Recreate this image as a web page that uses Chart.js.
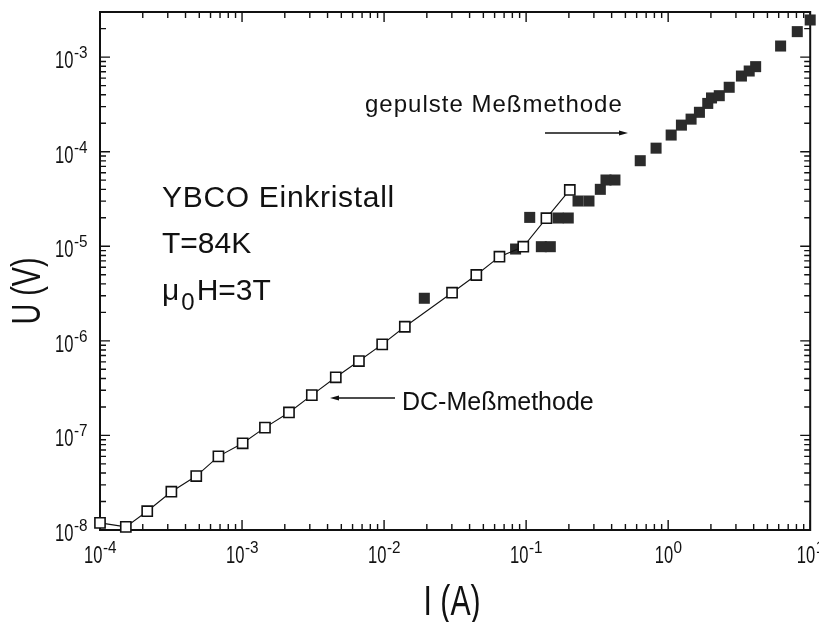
<!DOCTYPE html>
<html>
<head>
<meta charset="utf-8">
<title>U(I) YBCO Einkristall</title>
<script src="https://cdn.jsdelivr.net/npm/chart.js@4.4.1/dist/chart.umd.min.js"></script>
<style>
  html, body { margin: 0; padding: 0; background: #fff; }
  #wrap { width: 819px; height: 622px; }
</style>
</head>
<body>
<div id="wrap"><canvas id="ivChart" width="819" height="622"></canvas></div>
<script>
// DC measurement (open squares, joined by a line)
const dcCurrent = [1.0e-4, 1.52e-4, 2.15e-4, 3.18e-4, 4.76e-4, 6.82e-4, 1.01e-3, 1.45e-3, 2.14e-3, 3.10e-3,
                   4.57e-3, 6.65e-3, 9.70e-3, 1.40e-2, 3.01e-2, 4.46e-2, 6.49e-2, 9.55e-2, 0.139, 0.203];
const dcVoltage = [1.19e-8, 1.08e-8, 1.58e-8, 2.54e-8, 3.72e-8, 6.01e-8, 8.26e-8, 1.21e-7, 1.75e-7, 2.67e-7,
                   4.12e-7, 6.12e-7, 9.18e-7, 1.41e-6, 3.23e-6, 4.97e-6, 7.76e-6, 9.89e-6, 1.98e-5, 3.94e-5];

// pulsed measurement (filled squares)
const pulsCurrent = [1.92e-2, 8.43e-2, 0.106, 0.128, 0.148, 0.168, 0.198, 0.232, 0.277, 0.333,
                     0.365, 0.422, 0.636, 0.822, 1.05, 1.24, 1.45, 1.66, 1.90, 2.02,
                     2.29, 2.69, 3.28, 3.72, 4.13, 6.19, 8.11, 10.0];
const pulsVoltage = [2.82e-6, 9.35e-6, 2.02e-5, 9.9e-6, 9.9e-6, 1.99e-5, 1.99e-5, 3.01e-5, 3.01e-5, 4.0e-5,
                     5.02e-5, 5.02e-5, 8.03e-5, 1.09e-4, 1.50e-4, 1.91e-4, 2.21e-4, 2.61e-4, 3.24e-4, 3.70e-4,
                     3.91e-4, 4.80e-4, 6.31e-4, 7.13e-4, 7.93e-4, 1.31e-3, 1.86e-3, 2.47e-3];

// axis ranges and decade tick exponents
const xRange = [1e-4, 10];
const yRange = [1e-8, 3e-3];
const xExponents = [-4, -3, -2, -1, 0, 1];
const yExponents = [-8, -7, -6, -5, -4, -3];

const FONT = '"Liberation Sans", Arial, Helvetica, sans-serif';
const INK = '#111';

function toPoints(xs, ys) {
    return xs.map(function(x, i) { return { x: x, y: ys[i] }; });
}

// text helper: optional horizontal squeeze and letter spacing
function drawText(ctx, str, x, y, size, opts) {
    opts = opts || {};
    const sx = opts.scaleX || 1;
    ctx.save();
    ctx.font = size + 'px ' + FONT;
    ctx.fillStyle = INK;
    ctx.letterSpacing = (opts.spacing || 0) + 'px';
    ctx.textBaseline = 'alphabetic';
    const w = ctx.measureText(str).width * sx;
    let left = x;
    if (opts.align === 'center') left = x - w / 2;
    if (opts.align === 'right') left = x - w;
    ctx.translate(left, y);
    ctx.scale(sx, 1);
    ctx.textAlign = 'left';
    ctx.fillText(str, 0, 0);
    ctx.restore();
    return w;
}

function textWidth(ctx, str, size, sx) {
    ctx.save();
    ctx.font = size + 'px ' + FONT;
    const w = ctx.measureText(str).width * sx;
    ctx.restore();
    return w;
}

// "10" with a raised exponent
function drawPower(ctx, exp, x, baseline, align) {
    const baseSize = 23, baseSx = 0.72, supSize = 17, supSx = 0.9;
    const sup = String(exp);
    const wBase = textWidth(ctx, '10', baseSize, baseSx);
    const wSup = textWidth(ctx, sup, supSize, supSx);
    let left = x;
    if (align === 'center') left = x - (wBase + wSup) / 2;
    if (align === 'right') left = x - (wBase + wSup);
    drawText(ctx, '10', left, baseline, baseSize, { scaleX: baseSx });
    drawText(ctx, sup, left + wBase + 0.5, baseline - 10, supSize, { scaleX: supSx });
}

function arrow(ctx, x1, x2, y) {
    const dir = x2 > x1 ? 1 : -1;
    ctx.save();
    ctx.strokeStyle = INK;
    ctx.fillStyle = INK;
    ctx.lineWidth = 1.3;
    ctx.beginPath();
    ctx.moveTo(x1, y);
    ctx.lineTo(x2 - dir * 6, y);
    ctx.stroke();
    ctx.beginPath();
    ctx.moveTo(x2, y);
    ctx.lineTo(x2 - dir * 9, y - 2.6);
    ctx.lineTo(x2 - dir * 9, y + 2.6);
    ctx.closePath();
    ctx.fill();
    ctx.restore();
}

// frame, inward ticks on all four sides, tick labels
const logAxesPlugin = {
    id: 'logAxes',
    beforeDatasetsDraw: function(chart) {
        const ctx = chart.ctx;
        const a = chart.chartArea;
        const xs = chart.scales.x, ys = chart.scales.y;
        ctx.save();
        ctx.strokeStyle = INK;
        ctx.lineWidth = 2;
        ctx.strokeRect(a.left, a.top, a.right - a.left, a.bottom - a.top);

        ctx.lineWidth = 1.4;
        ctx.beginPath();
        for (let e = -5; e <= 1; e++) {
            for (let m = 1; m <= 9; m++) {
                const v = m * Math.pow(10, e);
                if (v < xRange[0] * 0.999 || v > xRange[1] * 1.001) continue;
                const px = xs.getPixelForValue(v);
                const len = m === 1 ? 10 : 6;
                ctx.moveTo(px, a.bottom); ctx.lineTo(px, a.bottom - len);
                ctx.moveTo(px, a.top); ctx.lineTo(px, a.top + len);
            }
        }
        for (let e = -9; e <= -3; e++) {
            for (let m = 1; m <= 9; m++) {
                const v = m * Math.pow(10, e);
                if (v < yRange[0] * 0.999 || v > yRange[1] * 0.98) continue;
                const py = ys.getPixelForValue(v);
                const len = m === 1 ? 10 : 6;
                ctx.moveTo(a.left, py); ctx.lineTo(a.left + len, py);
                ctx.moveTo(a.right, py); ctx.lineTo(a.right - len, py);
            }
        }
        ctx.stroke();
        ctx.restore();

        xExponents.forEach(function(e) {
            drawPower(ctx, e, xs.getPixelForValue(Math.pow(10, e)), a.bottom + 33, 'center');
        });
        yExponents.forEach(function(e) {
            drawPower(ctx, e, a.left - 13, ys.getPixelForValue(Math.pow(10, e)) + 11, 'right');
        });

        // axis titles
        drawText(ctx, 'I (A)', (a.left + a.right) / 2 - 3, 615, 42, { scaleX: 0.72, align: 'center' });
        ctx.save();
        ctx.translate(40, 291);
        ctx.rotate(-Math.PI / 2);
        drawText(ctx, 'U (V)', 0, 0, 40, { scaleX: 0.72, align: 'center' });
        ctx.restore();
    },
    afterDraw: function(chart) {
        const ctx = chart.ctx;
        drawText(ctx, 'YBCO Einkristall', 162, 207, 30, { spacing: 0.7 });
        drawText(ctx, 'T=84K', 162, 253, 30);
        const wMu = drawText(ctx, '\u03bc', 162, 300, 30);
        const wSub = drawText(ctx, '0', 162 + wMu + 2, 310, 24);
        drawText(ctx, 'H=3T', 162 + wMu + wSub + 4, 300, 30);

        drawText(ctx, 'gepulste Me\u00dfmethode', 365, 112, 24, { spacing: 1 });
        arrow(ctx, 545, 628, 133);

        drawText(ctx, 'DC-Me\u00dfmethode', 402, 410, 25);
        arrow(ctx, 395, 330, 398);
    }
};

new Chart(document.getElementById('ivChart'), {
    type: 'scatter',
    data: {
        datasets: [
            {
                label: 'DC-Meßmethode',
                data: toPoints(dcCurrent, dcVoltage),
                showLine: true,
                borderColor: INK,
                borderWidth: 1.1,
                tension: 0,
                pointStyle: 'rect',
                pointRadius: 7.2,
                pointBorderWidth: 1.6,
                pointBackgroundColor: '#fff',
                pointBorderColor: INK,
                clip: false,
                order: 0
            },
            {
                label: 'gepulste Meßmethode',
                data: toPoints(pulsCurrent, pulsVoltage),
                showLine: false,
                pointStyle: 'rect',
                pointRadius: 7.8,
                pointBorderWidth: 0,
                pointBackgroundColor: '#2b2b2b',
                pointBorderColor: '#2b2b2b',
                clip: false,
                order: 1
            }
        ]
    },
    options: {
        responsive: false,
        animation: false,
        layout: { padding: { left: 100, top: 12, right: 6, bottom: 92 } },
        scales: {
            x: { type: 'logarithmic', min: xRange[0], max: xRange[1], display: false },
            y: { type: 'logarithmic', min: yRange[0], max: yRange[1], display: false }
        },
        plugins: {
            legend: { display: false },
            tooltip: { enabled: false }
        }
    },
    plugins: [logAxesPlugin]
});
</script>
</body>
</html>
